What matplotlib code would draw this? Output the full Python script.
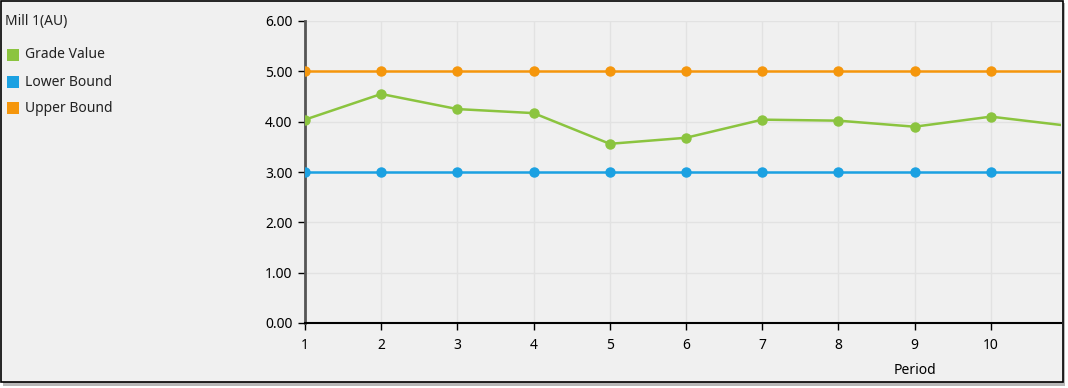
import numpy as np
import matplotlib
matplotlib.use("Agg")
import matplotlib.pyplot as plt
from matplotlib.patches import Rectangle

plt.rcParams['font.family'] = ['Noto Sans', 'DejaVu Sans']

# data
periods = [1, 2, 3, 4, 5, 6, 7, 8, 9, 10, 11]
grade_value = [4.04, 4.55, 4.25, 4.17, 3.56, 3.68, 4.04, 4.02, 3.90, 4.10, 3.92]
lower_bound = [3.0] * 11
upper_bound = [5.0] * 11
y_ticks = [0, 1, 2, 3, 4, 5, 6]
x_ticks = [1, 2, 3, 4, 5, 6, 7, 8, 9, 10]

c_green = "#8bc43f"
c_blue = "#1ba1e2"
c_orange = "#f5960c"
fs = 10

W, H = 1068, 388
fig = plt.figure(figsize=(W / 100, H / 100), dpi=100)
fig.patch.set_facecolor("white")

def px(x, y):
    # pixel (from top-left) -> figure fraction
    return x / W, 1 - y / H

# window frame with a small shadow
fig.patches.append(Rectangle((3 / W, 1 - 386 / H), 1062 / W, 383 / H,
                             transform=fig.transFigure, facecolor="#b8b8b8",
                             edgecolor="none", zorder=-3))
fig.patches.append(Rectangle((0.5 / W, 1 - 382 / H), 1062 / W, 381.5 / H,
                             transform=fig.transFigure, facecolor="#f0f0f0",
                             edgecolor="black", linewidth=1.2, zorder=-2))

x0, x1, ytop, ybot = 305, 1061, 21, 323
ax = fig.add_axes([x0 / W, 1 - ybot / H, (x1 - x0) / W, (ybot - ytop) / H])
ax.set_facecolor("none")

ax.plot(periods, upper_bound, color=c_orange, lw=1.8, marker="o", ms=6.5, zorder=3)
ax.plot(periods, lower_bound, color=c_blue, lw=1.8, marker="o", ms=6.5, zorder=3)
ax.plot(periods, grade_value, color=c_green, lw=1.8, marker="o", ms=6.5, zorder=4)

ax.set_xlim(1, 1 + (x1 - x0) / 76.2)
ax.set_ylim(0, 6)
ax.set_xticks(x_ticks)
ax.set_yticks(y_ticks)
ax.set_yticklabels(["%.2f" % v for v in y_ticks])
ax.grid(True, color="#e2e2e2", lw=1)
ax.set_axisbelow(True)

for s in ["top", "right"]:
    ax.spines[s].set_visible(False)
ax.spines["left"].set_color("#555555")
ax.spines["left"].set_linewidth(2)
ax.spines["bottom"].set_color("black")
ax.spines["bottom"].set_linewidth(1.5)
ax.tick_params(axis="both", direction="out", length=5, width=1, colors="black",
               labelsize=fs, pad=4)
ax.tick_params(axis="x", pad=6)

fig.text(*px(915, 371), "Period", ha="center", va="center", fontsize=fs)
fig.text(*px(930, -4), "Period", ha="center", va="center", fontsize=fs)

# legend drawn by hand
fig.text(*px(5, 21), "Mill 1(AU)", ha="left", va="center", fontsize=fs, color="#222222")
names = ["Grade Value", "Lower Bound", "Upper Bound"]
cols = [c_green, c_blue, c_orange]
ys = [55, 82, 108]
for n, c, y in zip(names, cols, ys):
    fig.patches.append(Rectangle(px(7, y + 6), 12 / W, 12 / H,
                                 transform=fig.transFigure, facecolor=c,
                                 edgecolor="none"))
    fig.text(*px(25, y), n, ha="left", va="center", fontsize=fs, color="#222222")

fig.savefig("out.png", dpi=100)
